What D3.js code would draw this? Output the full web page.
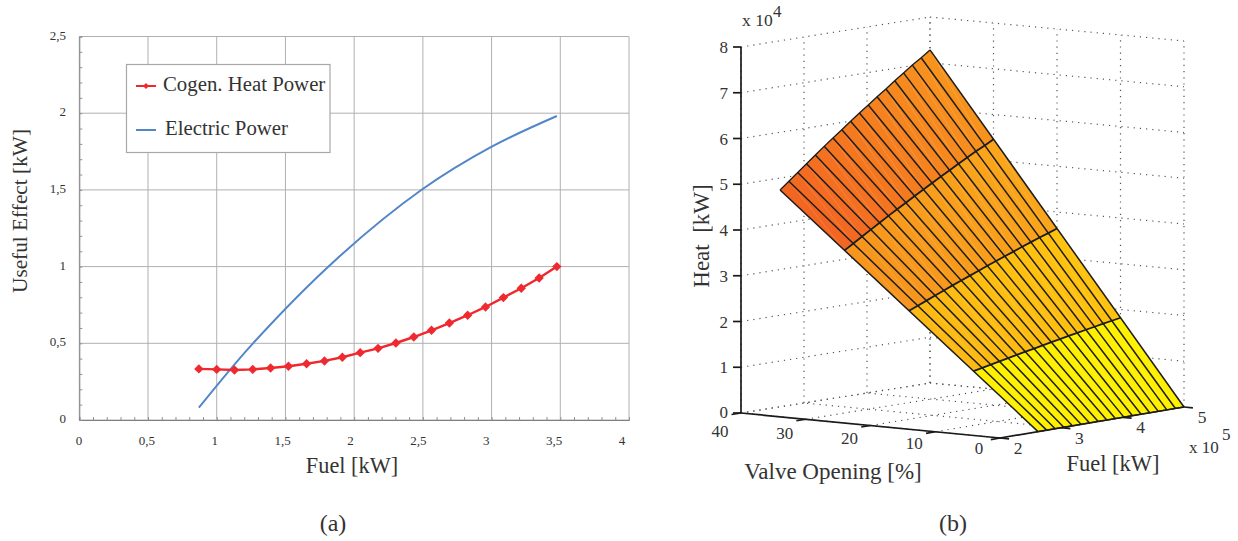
<!DOCTYPE html>
<html>
<head>
<meta charset="utf-8">
<script src="https://cdnjs.cloudflare.com/ajax/libs/d3/7.8.5/d3.min.js"></script>
<style>
	body { margin: 0; background: #fff; }
	text { font-family: "Liberation Serif", serif; fill: #333; }
</style>
</head>
<body>
<div id="chart"></div>
<script>
// panel (a)
const FUEL_KW = [0.87, 1.0, 1.129, 1.262, 1.392, 1.522, 1.654, 1.784, 1.914, 2.044, 2.174, 2.304, 2.434, 2.563, 2.693, 2.826, 2.956, 3.086, 3.216, 3.346, 3.475]
const HEAT_KW = [0.333, 0.33, 0.326, 0.33, 0.339, 0.35, 0.367, 0.385, 0.409, 0.439, 0.467, 0.502, 0.541, 0.585, 0.632, 0.683, 0.737, 0.798, 0.859, 0.926, 1.0]
const ELEC_FUEL = [0.87, 1.264, 1.873, 2.496, 3.001, 3.475]
const ELEC_KW = [0.08, 0.5, 1.05, 1.504, 1.782, 1.982]
const X_TICKS = [0, 0.5, 1, 1.5, 2, 2.5, 3, 3.5, 4]
const Y_TICKS = [0, 0.5, 1, 1.5, 2, 2.5]

// panel (b), heat in units of 10^4 kW, fuel in units of 10^5 kW
const VALVE_PCT = [0, 10, 20, 30, 40]
const FUEL_GRID = [2.62, 2.76, 2.9, 3.04, 3.18, 3.32, 3.46, 3.6, 3.74, 3.88, 4.02, 4.16, 4.3, 4.44, 4.58, 4.72, 4.86, 5]
const HEAT_AT_40 = [4.74, 4.9, 5.06, 5.22, 5.38, 5.54, 5.69, 5.84, 5.995, 6.145, 6.29, 6.44, 6.58, 6.73, 6.87, 7.01, 7.14, 7.28]
const BAND_COLOR_LOW = ['#fff000', '#fdb913', '#f7941d', '#f26522']
const BAND_COLOR_HIGH = ['#fff000', '#ffc20e', '#faa61a', '#f7941d']
const VALVE_TICKS = [0, 10, 20, 30, 40]
const FUEL_TICKS = [2, 3, 4, 5]
const HEAT_TICKS = [0, 1, 2, 3, 4, 5, 6, 7, 8]

const width = 1238
const height = 541

let svg = d3.select('#chart').append('svg')
	.attr('width', width)
	.attr('height', height)
	.style('display', 'block')

function addText(g, str, x, y, size, anchor) {
	return g.append('text')
		.attr('x', x)
		.attr('y', y)
		.attr('font-size', size)
		.attr('text-anchor', anchor || 'middle')
		.text(str)
}

/**
 * Panel (a)
 */
let a = svg.append('g')

let x = d3.scaleLinear().domain([0, 4]).range([79.3, 629])
let y = d3.scaleLinear().domain([0, 2.5]).range([420, 36.5])
// the printed labels sit a bit tighter than the grid
let xLabel = d3.scaleLinear().domain([0, 4]).range([79, 622])

a.append('g').selectAll('line')
	.data(X_TICKS)
	.join('line')
	.attr('x1', d => x(d)).attr('x2', d => x(d))
	.attr('y1', y(0)).attr('y2', y(2.5))
	.attr('stroke', '#b0b0b0')

a.append('g').selectAll('line')
	.data(Y_TICKS)
	.join('line')
	.attr('x1', x(0)).attr('x2', x(4))
	.attr('y1', d => y(d)).attr('y2', d => y(d))
	.attr('stroke', '#b0b0b0')

a.append('g')
	.attr('transform', `translate(0,${y(0)})`)
	.call(d3.axisBottom(x).ticks(40).tickSize(-3).tickFormat(''))
	.call(g => g.select('.domain').attr('stroke', '#808080'))
	.call(g => g.selectAll('.tick line').attr('stroke', '#909090'))

a.append('g')
	.attr('transform', `translate(${x(0)},0)`)
	.call(d3.axisLeft(y).ticks(25).tickSize(-3).tickFormat(''))
	.call(g => g.select('.domain').attr('stroke', '#808080'))
	.call(g => g.selectAll('.tick line').attr('stroke', '#909090'))

a.append('g').selectAll('text')
	.data(X_TICKS)
	.join('text')
	.attr('x', d => xLabel(d))
	.attr('y', 445)
	.attr('font-size', 13)
	.attr('text-anchor', 'middle')
	.text(d => String(d).replace('.', ','))

a.append('g').selectAll('text')
	.data(Y_TICKS)
	.join('text')
	.attr('x', 66)
	.attr('y', d => y(d) + 3)
	.attr('font-size', 13)
	.attr('text-anchor', 'end')
	.text(d => String(d).replace('.', ','))

let elecLine = d3.line()
	.x((d, i) => x(ELEC_FUEL[i]))
	.y(d => y(d))
	.curve(d3.curveCatmullRom)

a.append('path')
	.attr('d', elecLine(ELEC_KW))
	.attr('fill', 'none')
	.attr('stroke', '#5286c8')
	.attr('stroke-width', 2)

let heatLine = d3.line()
	.x((d, i) => x(FUEL_KW[i]))
	.y(d => y(d))

a.append('path')
	.attr('d', heatLine(HEAT_KW))
	.attr('fill', 'none')
	.attr('stroke', '#f0282d')
	.attr('stroke-width', 2.4)

let diamond = d3.symbol().type(d3.symbolDiamond2).size(56)

a.append('g').selectAll('path')
	.data(HEAT_KW)
	.join('path')
	.attr('d', diamond)
	.attr('transform', (d, i) => `translate(${x(FUEL_KW[i])},${y(d)})`)
	.attr('fill', '#ee2a30')

// legend
let legend = a.append('g')
legend.append('rect')
	.attr('x', 126.5).attr('y', 64.5)
	.attr('width', 203.5).attr('height', 88)
	.attr('fill', '#fff')
	.attr('stroke', '#a8a8a8')
	.attr('stroke-width', 1.2)
legend.append('line')
	.attr('x1', 136).attr('x2', 156)
	.attr('y1', 86).attr('y2', 86)
	.attr('stroke', '#f0282d')
	.attr('stroke-width', 2)
legend.append('path')
	.attr('d', d3.symbol().type(d3.symbolDiamond2).size(24))
	.attr('transform', 'translate(146,86)')
	.attr('fill', '#ee2a30')
legend.append('line')
	.attr('x1', 136).attr('x2', 156)
	.attr('y1', 130).attr('y2', 130)
	.attr('stroke', '#5286c8')
	.attr('stroke-width', 2)
addText(legend, 'Cogen. Heat Power', 163, 91, 20.8, 'start')
addText(legend, 'Electric Power', 165, 135, 20.8, 'start')

addText(a, 'Fuel [kW]', 352, 473, 22.3)
addText(a, 'Useful Effect [kW]', 0, 0, 21.3)
	.attr('transform', 'translate(27,211) rotate(-90)')
addText(a, '(a)', 333, 531, 24)

/**
 * Panel (b), the box is projected from its four floor corners
 */
let b = svg.append('g')

const FLOOR = {
	v40f2: [741, 413],
	v0f2: [1000, 438],
	v0f5: [1184, 407],
	v40f5: [930, 383],
}

let valveT = d3.scaleLinear().domain([0, 40]).range([0, 1])
let fuelT = d3.scaleLinear().domain([2, 5]).range([0, 1])
let heatPx = d3.scaleLinear().domain([0, 8]).range([0, 366])

function project(v, f, z) {
	let s = valveT(v)
	let t = fuelT(f)
	let px = d3.interpolateNumber(
		d3.interpolateNumber(FLOOR.v0f2[0], FLOOR.v40f2[0])(s),
		d3.interpolateNumber(FLOOR.v0f5[0], FLOOR.v40f5[0])(s))(t)
	let py = d3.interpolateNumber(
		d3.interpolateNumber(FLOOR.v0f2[1], FLOOR.v40f2[1])(s),
		d3.interpolateNumber(FLOOR.v0f5[1], FLOOR.v40f5[1])(s))(t)
	return [px, py - heatPx(z || 0)]
}

function seg(g, p, q, attrs) {
	let l = g.append('line')
		.attr('x1', p[0]).attr('y1', p[1])
		.attr('x2', q[0]).attr('y2', q[1])
	Object.keys(attrs).forEach(k => l.attr(k, attrs[k]))
	return l
}

const DOT = { stroke: '#555', 'stroke-width': 1.2, 'stroke-dasharray': '1.2 5' }
let grid = b.append('g')

// back walls and floor
HEAT_TICKS.forEach(z => {
	seg(grid, project(40, 2, z), project(40, 5, z), DOT)
	seg(grid, project(40, 5, z), project(0, 5, z), DOT)
})
FUEL_TICKS.forEach(f => {
	seg(grid, project(40, f, 0), project(40, f, 8), DOT)
	seg(grid, project(0, f, 0), project(40, f, 0), DOT)
})
VALVE_TICKS.forEach(v => {
	seg(grid, project(v, 5, 0), project(v, 5, 8), DOT)
	seg(grid, project(v, 2, 0), project(v, 5, 0), DOT)
})

// surface, heat grows linearly with the valve on each fuel line
let heatAt = (v, j) => HEAT_AT_40[j] * v / 40
let bandColor = d3.scaleLinear().domain([FUEL_GRID[0], FUEL_GRID[FUEL_GRID.length - 1]]).range([0, 1])

let cells = []
for (let i = 0; i < VALVE_PCT.length - 1; i++) {
	for (let j = 0; j < FUEL_GRID.length - 1; j++) {
		let corners = [
			project(VALVE_PCT[i], FUEL_GRID[j], heatAt(VALVE_PCT[i], j)),
			project(VALVE_PCT[i + 1], FUEL_GRID[j], heatAt(VALVE_PCT[i + 1], j)),
			project(VALVE_PCT[i + 1], FUEL_GRID[j + 1], heatAt(VALVE_PCT[i + 1], j + 1)),
			project(VALVE_PCT[i], FUEL_GRID[j + 1], heatAt(VALVE_PCT[i], j + 1)),
		]
		let mid = (FUEL_GRID[j] + FUEL_GRID[j + 1]) / 2
		cells.push({
			corners: corners,
			color: d3.interpolateRgb(BAND_COLOR_LOW[i], BAND_COLOR_HIGH[i])(bandColor(mid)),
		})
	}
}

let surface = b.append('g')
surface.selectAll('path.cell')
	.data(cells)
	.join('path')
	.attr('class', 'cell')
	.attr('d', d => 'M' + d.corners.join('L') + 'Z')
	.attr('fill', d => d.color)
	.attr('stroke', d => d.color)
	.attr('stroke-width', 0.5)

// faint facet diagonals
surface.selectAll('line.diag')
	.data(cells)
	.join('line')
	.attr('class', 'diag')
	.attr('x1', d => d.corners[0][0]).attr('y1', d => d.corners[0][1])
	.attr('x2', d => d.corners[2][0]).attr('y2', d => d.corners[2][1])
	.attr('stroke', '#fff')
	.attr('stroke-opacity', 0.2)
	.attr('stroke-width', 0.7)

const EDGE = { stroke: '#1c1c1c', 'stroke-width': 1.5 }
FUEL_GRID.forEach((f, j) => {
	seg(surface, project(0, f, 0), project(40, f, heatAt(40, j)), EDGE)
})
VALVE_PCT.forEach(v => {
	let path = d3.line()(FUEL_GRID.map((f, j) => project(v, f, heatAt(v, j))))
	surface.append('path')
		.attr('d', path)
		.attr('fill', 'none')
		.attr('stroke', '#1c1c1c')
		.attr('stroke-width', v === 0 || v === 40 ? 1.3 : 1.8)
})

// axes
const AXIS = { stroke: '#1a1a1a', 'stroke-width': 1.7 }
let axes = b.append('g')
seg(axes, project(40, 2, 0), project(40, 2, 8), AXIS)
seg(axes, project(40, 2, 0), project(0, 2, 0), AXIS)
seg(axes, project(0, 2, 0), project(0, 5, 0), AXIS)

HEAT_TICKS.forEach(z => {
	let p = project(40, 2, z)
	seg(axes, p, [p[0] - 8, p[1]], AXIS)
	addText(b, z, p[0] - 13, p[1] + (z === 0 ? 5 : 6), 17, 'end')
})
VALVE_TICKS.forEach(v => {
	seg(axes, project(v, 2, 0), project(v, 1.85, 0), AXIS)
	let p = project(v, 2, 0)
	// the 40 has to clear the 0 of the heat axis
	addText(b, v, p[0] - 21, p[1] + (v === 40 ? 24 : 16 + v / 8), 17)
})
FUEL_TICKS.forEach(f => {
	seg(axes, project(0, f, 0), project(-1.4, f, 0), AXIS)
	let p = project(0, f, 0)
	addText(b, f, p[0] + 18, p[1] + 16, 17.5)
})

addText(b, 'x 10', 742, 26, 17.5, 'start')
addText(b, '4', 773, 17, 17, 'start')
addText(b, 'x 10', 1189, 453, 17, 'start')
addText(b, '5', 1222, 440, 17, 'start')

addText(b, 'Valve Opening [%]', 833, 479, 23)
addText(b, 'Fuel [kW]', 1113, 471, 22.5)
addText(b, 'Heat  [kW]', 0, 0, 23)
	.attr('transform', 'translate(709,236) rotate(-90)')
	.style('white-space', 'pre')
addText(b, '(b)', 953, 531, 24)
</script>
</body>
</html>
